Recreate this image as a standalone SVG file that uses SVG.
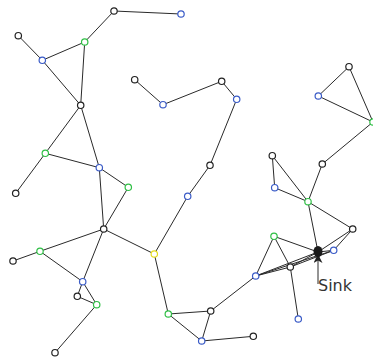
<svg xmlns="http://www.w3.org/2000/svg" width="373" height="359" viewBox="0 0 373 359">
<defs>
<style>
.e{stroke:#2a2a2a;stroke-width:1;fill:none}
.n{fill:#fff;stroke-width:1.2}
.k{stroke:#222}
.b{stroke:#3a5bc7}
.g{stroke:#2fbf45}
.y{stroke:#e6dc1e}
.lbl{font-family:"DejaVu Sans",sans-serif;font-size:16px;fill:#333}
</style>
<marker id="ah" viewBox="0 0 10 10" refX="9" refY="5" markerWidth="13" markerHeight="9" markerUnits="userSpaceOnUse" orient="auto">
<path d="M0,0 L10,5 L0,10 L3,5 Z" fill="#222"/>
</marker>
</defs>
<g id="edges">
<line class="e" x1="114" y1="11" x2="181" y2="14"/>
<line class="e" x1="114" y1="11" x2="84.7" y2="42"/>
<line class="e" x1="18.3" y1="35.7" x2="42.3" y2="60.3"/>
<line class="e" x1="42.3" y1="60.3" x2="84.7" y2="42"/>
<line class="e" x1="84.7" y1="42" x2="80.7" y2="105.3"/>
<line class="e" x1="42.3" y1="60.3" x2="80.7" y2="105.3"/>
<line class="e" x1="80.7" y1="105.3" x2="45.3" y2="153.3"/>
<line class="e" x1="80.7" y1="105.3" x2="99.3" y2="167.7"/>
<line class="e" x1="45.3" y1="153.3" x2="99.3" y2="167.7"/>
<line class="e" x1="45.3" y1="153.3" x2="15.7" y2="193.3"/>
<line class="e" x1="99.3" y1="167.7" x2="128.3" y2="187.3"/>
<line class="e" x1="99.3" y1="167.7" x2="103.7" y2="229"/>
<line class="e" x1="128.3" y1="187.3" x2="103.7" y2="229"/>
<line class="e" x1="103.7" y1="229" x2="40" y2="251.3"/>
<line class="e" x1="40" y1="251.3" x2="13" y2="261"/>
<line class="e" x1="40" y1="251.3" x2="82.7" y2="281.7"/>
<line class="e" x1="103.7" y1="229" x2="82.7" y2="281.7"/>
<line class="e" x1="103.7" y1="229" x2="154.3" y2="254"/>
<line class="e" x1="82.7" y1="281.7" x2="77.3" y2="296.3"/>
<line class="e" x1="77.3" y1="296.3" x2="96.7" y2="304.7"/>
<line class="e" x1="82.7" y1="281.7" x2="96.7" y2="304.7"/>
<line class="e" x1="96.7" y1="304.7" x2="55" y2="352.7"/>
<line class="e" x1="154.3" y1="254" x2="187.7" y2="196.3"/>
<line class="e" x1="187.7" y1="196.3" x2="210" y2="165.3"/>
<line class="e" x1="210" y1="165.3" x2="236.7" y2="99.3"/>
<line class="e" x1="236.7" y1="99.3" x2="221.7" y2="81.3"/>
<line class="e" x1="221.7" y1="81.3" x2="163" y2="104.7"/>
<line class="e" x1="163" y1="104.7" x2="134.7" y2="79.7"/>
<line class="e" x1="154.3" y1="254" x2="168.3" y2="314"/>
<line class="e" x1="168.3" y1="314" x2="210.7" y2="311"/>
<line class="e" x1="168.3" y1="314" x2="201.7" y2="341"/>
<line class="e" x1="201.7" y1="341" x2="210.7" y2="311"/>
<line class="e" x1="201.7" y1="341" x2="253.3" y2="336.3"/>
<line class="e" x1="210.7" y1="311" x2="255.7" y2="276"/>
<line class="e" x1="255.7" y1="276" x2="274" y2="236.3"/>
<line class="e" x1="255.7" y1="276" x2="290.3" y2="267"/>
<line class="e" x1="255.7" y1="276" x2="318" y2="252"/>
<line class="e" x1="255.7" y1="276" x2="333.7" y2="250.3"/>
<line class="e" x1="290.3" y1="267" x2="318" y2="252"/>
<line class="e" x1="290.3" y1="267" x2="333.7" y2="250.3"/>
<line class="e" x1="274" y1="236.3" x2="290.3" y2="267"/>
<line class="e" x1="274" y1="236.3" x2="318" y2="252"/>
<line class="e" x1="290.3" y1="267" x2="298.3" y2="319"/>
<line class="e" x1="308" y1="201.7" x2="318" y2="252"/>
<line class="e" x1="308" y1="201.7" x2="352.7" y2="229"/>
<line class="e" x1="352.7" y1="229" x2="318" y2="252"/>
<line class="e" x1="352.7" y1="229" x2="333.7" y2="250.3"/>
<line class="e" x1="318" y1="252" x2="333.7" y2="250.3"/>
<line class="e" x1="274.7" y1="187.7" x2="308" y2="201.7"/>
<line class="e" x1="272.3" y1="155.7" x2="274.7" y2="187.7"/>
<line class="e" x1="272.3" y1="155.7" x2="308" y2="201.7"/>
<line class="e" x1="322.3" y1="164" x2="308" y2="201.7"/>
<line class="e" x1="322.3" y1="164" x2="373" y2="122"/>
<line class="e" x1="373" y1="122" x2="318.3" y2="96"/>
<line class="e" x1="318.3" y1="96" x2="349" y2="66.7"/>
<line class="e" x1="349" y1="66.7" x2="373" y2="122"/>
<line class="e" x1="318" y1="284" x2="318" y2="255" marker-end="url(#ah)"/>
</g>
<g id="n1"><circle class="n k" cx="114" cy="11" r="3.2"/></g>
<g id="n2"><circle class="n b" cx="181" cy="14" r="3.2"/></g>
<g id="n3"><circle class="n k" cx="18.3" cy="35.7" r="3.2"/></g>
<g id="n4"><circle class="n g" cx="84.7" cy="42" r="3.2"/></g>
<g id="n5"><circle class="n b" cx="42.3" cy="60.3" r="3.2"/></g>
<g id="n6"><circle class="n k" cx="134.7" cy="79.7" r="3.2"/></g>
<g id="n7"><circle class="n b" cx="163" cy="104.7" r="3.2"/></g>
<g id="n8"><circle class="n k" cx="80.7" cy="105.3" r="3.2"/></g>
<g id="n9"><circle class="n g" cx="45.3" cy="153.3" r="3.2"/></g>
<g id="n10"><circle class="n b" cx="99.3" cy="167.7" r="3.2"/></g>
<g id="n11"><circle class="n k" cx="221.7" cy="81.3" r="3.2"/></g>
<g id="n12"><circle class="n b" cx="236.7" cy="99.3" r="3.2"/></g>
<g id="n13"><circle class="n k" cx="349" cy="66.7" r="3.2"/></g>
<g id="n14"><circle class="n b" cx="318.3" cy="96" r="3.2"/></g>
<g id="n15"><circle class="n k" cx="210" cy="165.3" r="3.2"/></g>
<g id="n16"><circle class="n k" cx="272.3" cy="155.7" r="3.2"/></g>
<g id="n17"><circle class="n k" cx="322.3" cy="164" r="3.2"/></g>
<g id="n18"><circle class="n g" cx="373" cy="122" r="3.2"/></g>
<g id="n19"><circle class="n k" cx="15.7" cy="193.3" r="3.2"/></g>
<g id="n20"><circle class="n g" cx="128.3" cy="187.3" r="3.2"/></g>
<g id="n21"><circle class="n b" cx="187.7" cy="196.3" r="3.2"/></g>
<g id="n22"><circle class="n k" cx="103.7" cy="229" r="3.2"/></g>
<g id="n23"><circle class="n g" cx="40" cy="251.3" r="3.2"/></g>
<g id="n24"><circle class="n k" cx="13" cy="261" r="3.2"/></g>
<g id="n25"><circle class="n y" cx="154.3" cy="254" r="3.2"/></g>
<g id="n26"><circle class="n b" cx="82.7" cy="281.7" r="3.2"/></g>
<g id="n27"><circle class="n k" cx="77.3" cy="296.3" r="3.2"/></g>
<g id="n28"><circle class="n g" cx="96.7" cy="304.7" r="3.2"/></g>
<g id="n29"><circle class="n g" cx="168.3" cy="314" r="3.2"/></g>
<g id="n30"><circle class="n k" cx="55" cy="352.7" r="3.2"/></g>
<g id="n31"><circle class="n b" cx="274.7" cy="187.7" r="3.2"/></g>
<g id="n32"><circle class="n g" cx="308" cy="201.7" r="3.2"/></g>
<g id="n33"><circle class="n k" cx="352.7" cy="229" r="3.2"/></g>
<g id="n34"><circle class="n g" cx="274" cy="236.3" r="3.2"/></g>
<g id="n35"><circle class="n b" cx="333.7" cy="250.3" r="3.2"/></g>
<g id="n36"><circle class="n k" cx="290.3" cy="267" r="3.2"/></g>
<g id="n37"><circle class="n b" cx="255.7" cy="276" r="3.2"/></g>
<g id="n38"><circle class="n k" cx="210.7" cy="311" r="3.2"/></g>
<g id="n39"><circle class="n b" cx="298.3" cy="319" r="3.2"/></g>
<g id="n40"><circle class="n b" cx="201.7" cy="341" r="3.2"/></g>
<g id="n41"><circle class="n k" cx="253.3" cy="336.3" r="3.2"/></g>
<g id="sink"><ellipse cx="318" cy="251.5" rx="4.5" ry="5.5" fill="#1a1a1a"/><text class="lbl" x="318" y="291">Sink</text></g>
</svg>
